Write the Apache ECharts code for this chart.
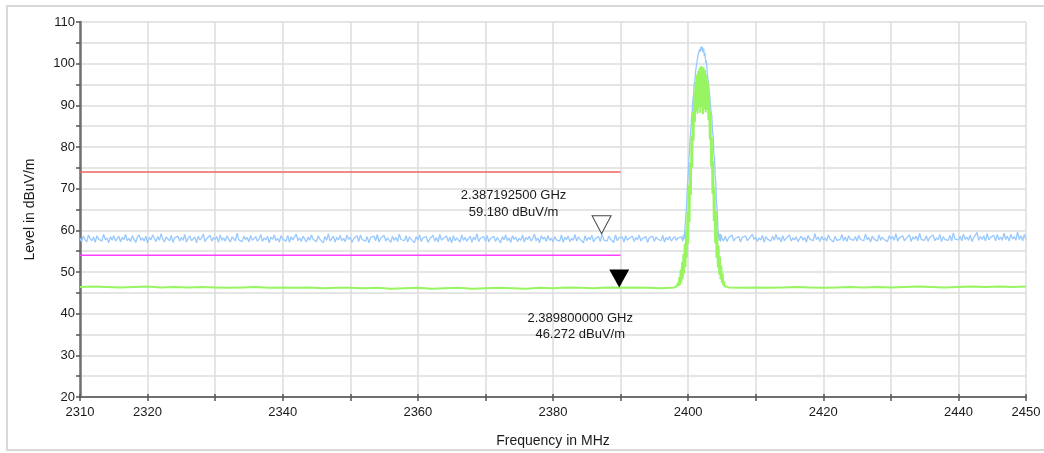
<!DOCTYPE html>
<html>
<head>
<meta charset="utf-8">
<script src="https://cdn.jsdelivr.net/npm/echarts@6/dist/echarts.min.js"></script>
<style>
html,body{margin:0;padding:0;background:#fff;}
#chart{width:1044px;height:453px;}
</style>
</head>
<body>
<div id="chart"></div>
<script>
// ---- axis ----
const X_MIN = 2310, X_MAX = 2450, X_STEP = 10;
const Y_MIN = 20, Y_MAX = 110, Y_STEP = 5;
const xLabelValues = [2310, 2320, 2340, 2360, 2380, 2400, 2420, 2440, 2450];
const yLabelValues = [20, 30, 40, 50, 60, 70, 80, 90, 100, 110];

// ---- peak (max hold) trace, blue ----
const blueLeftStart = 2310, blueLeftStep = 0.25;
const blueLeft = [
58.1,57.3,58.6,57.8,57.2,58.9,58.0,57.5,58.4,57.1,58.7,57.9,58.3,57.4,59.1,57.7,58.2,57.0,58.5,57.6,
58.8,57.4,58.0,58.6,57.2,58.3,57.8,59.0,57.5,58.1,57.3,58.7,57.9,57.1,58.4,58.9,57.6,58.2,57.4,58.6,
57.0,58.3,57.7,58.9,58.1,57.3,58.5,57.6,59.2,57.9,57.2,58.4,58.0,57.5,58.8,57.1,58.2,57.8,58.6,57.4,
58.3,57.6,59.0,57.2,58.1,58.7,57.5,57.9,58.4,57.0,58.6,57.7,58.2,59.1,57.3,58.0,57.6,58.8,57.4,58.3,
57.8,58.5,57.1,58.9,57.6,58.2,57.4,58.7,57.9,57.2,58.4,58.0,57.5,59.3,57.7,58.1,57.3,58.6,57.8,58.3,
57.2,58.8,57.6,58.0,58.5,57.4,57.9,59.0,57.3,58.2,57.7,58.6,57.0,58.4,57.8,58.9,57.5,58.1,57.2,58.7,
57.9,58.3,57.4,58.8,57.1,58.5,57.7,58.0,59.1,57.5,58.2,57.3,58.6,57.9,57.2,58.4,57.6,58.9,57.8,58.1,
57.3,58.7,57.9,58.2,57.0,58.5,57.6,59.2,57.4,58.0,58.6,57.2,58.3,57.7,58.8,57.5,58.1,57.3,58.9,57.8,
58.4,57.1,58.0,57.6,58.7,57.3,58.9,57.8,58.2,57.4,58.5,57.0,58.3,57.9,58.6,57.5,59.0,57.2,58.1,57.7,
58.8,57.4,58.2,57.9,57.1,58.6,57.6,58.3,57.3,59.1,57.8,58.0,57.5,58.7,57.2,58.4,57.9,58.1,57.0,58.5,
57.6,58.9,57.3,58.2,57.8,58.5,57.1,58.0,57.7,58.8,57.4,58.3,57.2,59.0,57.6,58.1,57.9,58.6,57.3,58.4,
57.0,58.7,57.5,58.2,57.8,57.2,58.9,57.6,58.3,57.4,58.0,58.6,57.1,58.4,57.7,59.2,57.3,58.1,57.9,58.5,
57.4,58.8,57.2,58.0,57.6,58.6,57.3,58.3,57.9,57.0,58.5,57.7,58.9,57.5,58.2,57.1,58.7,57.8,58.4,57.3,
58.1,57.6,58.9,57.2,58.3,57.8,58.6,57.4,58.0,59.1,57.5,58.2,57.0,58.7,57.9,58.4,57.3,58.8,57.6,58.1,
57.2,58.5,57.7,58.0,57.4,58.9,57.1,58.3,57.8,58.6,57.3,58.1,57.6,59.0,57.4,58.4,57.9,58.2,57.0,58.7,
57.5,58.3,57.8,58.8,57.2,58.0,57.6,58.5,57.3,59.2,57.7,58.1,57.4,58.6,57.9,58.3,57.1,58.9,57.5,58.2,
57.8,58.4,57.2,58.7,57.6,58.1,57.9,58.6,57.3,58.3,57.7,58.9,57.4,58.0,57.6,58.5,57.1,58.2,57.8,58.6,
57.3,58.4,57.9,58.1,57.5,58.8,57.2,58.3,57.7,58.6,57.4,58.0,58.5,57.6,58.2,57.9,58.4
];
const bluePeakStart = 2399.1, bluePeakStep = 0.1;
const bluePeak = [
58.3,57.4,58.9,57.8,59.8,60.0,64.4,67.0,70.9,73.3,
77.0,79.1,82.4,84.1,87.2,88.7,91.4,92.5,95.0,95.8,
98.1,98.5,100.4,100.6,102.3,102.0,103.5,102.9,104.1,103.2,
104.0,102.7,103.6,101.8,102.5,100.2,100.7,98.1,98.4,95.4,
95.3,92.1,91.8,88.2,87.6,83.7,82.8,78.5,77.4,72.9,
71.5,66.6,64.9,60.2,59.9,57.6,59.2,57.3,58.9
];
const blueRightStart = 2405, blueRightStep = 0.25;
const blueRight = [
58.0,57.5,58.6,57.3,58.2,57.8,58.9,57.4,58.1,57.7,58.5,57.2,58.3,57.9,58.7,57.5,58.0,57.6,59.1,57.8,
58.4,57.3,58.2,57.7,58.8,57.1,58.5,57.9,58.0,57.4,58.6,57.6,59.0,57.8,58.3,57.2,58.7,57.5,58.1,57.9,
58.9,57.4,58.2,57.7,58.5,57.3,58.0,58.6,57.6,58.3,57.1,58.8,57.9,58.1,57.5,59.2,57.8,58.4,57.3,58.6,
57.7,58.2,57.4,58.9,57.9,58.3,57.2,58.6,57.6,58.0,57.8,59.0,57.5,58.4,57.3,58.7,57.9,58.1,57.6,58.5,
57.4,58.8,57.8,58.2,57.5,59.1,57.7,58.3,57.2,58.6,57.9,58.0,57.4,58.9,57.6,58.4,57.8,58.1,57.3,58.7,
57.9,58.5,57.6,59.2,57.4,58.2,57.8,58.7,57.5,58.0,57.7,58.9,57.3,58.4,57.9,58.6,57.5,59.3,57.8,58.1,
57.6,58.7,57.4,58.3,57.9,58.9,57.5,58.2,57.7,59.0,57.3,58.5,57.8,58.0,57.6,58.8,57.4,59.4,57.9,58.3,
57.7,58.6,57.5,59.1,57.8,58.4,57.6,58.9,57.3,58.2,57.9,59.5,57.6,58.5,57.8,58.7,57.4,59.2,57.7,58.3,
57.9,58.8,57.5,59.0,57.7,58.4,57.6,59.3,57.8,58.6,57.4,59.1,57.9,58.5,57.6,59.6,57.8,58.7,57.5,59.0,
57.8
];

// ---- average trace, green ----
const greenLeftStart = 2310, greenLeftStep = 2;
const greenLeft = [
46.4,46.5,46.4,46.3,46.4,46.5,46.3,46.4,46.3,46.4,
46.3,46.2,46.3,46.4,46.2,46.3,46.2,46.3,46.1,46.2,
46.2,46.1,46.2,46.0,46.1,46.2,46.0,46.1,46.2,46.0,
46.1,46.2,46.1,46.0,46.2,46.1,46.3,46.2,46.1,46.3,
46.2,46.3,46.2,46.1,46.3
];
const greenPeakStart = 2398.2, greenPeakStep = 0.1;
const greenPeak = [
46.3,46.6,46.4,47.4,46.6,48.8,46.9,50.6,47.5,52.4,
48.4,54.3,49.6,56.8,51.2,60.0,53.5,64.5,56.8,70.8,
62.0,76.3,68.5,82.7,75.0,88.4,81.5,93.2,86.0,95.6,
88.6,97.4,88.0,98.3,89.4,99.0,88.2,99.4,89.6,99.3,
87.9,99.0,89.0,98.4,88.3,97.3,88.9,95.8,86.4,93.0,
81.8,88.6,75.3,82.4,68.8,76.6,62.2,70.4,56.9,64.6,
53.4,59.7,51.0,56.3,49.4,53.7,48.2,51.5,47.4,49.6,
46.8,47.8,46.5,46.9,46.4,46.5,46.3
];
const greenRightStart = 2406, greenRightStep = 2;
const greenRight = [
46.3,46.2,46.3,46.2,46.3,46.4,46.3,46.2,46.3,46.4,
46.3,46.4,46.3,46.4,46.5,46.4,46.3,46.4,46.5,46.4,
46.5,46.4,46.5
];

// ---- limit lines ----
const limitPeak = [[2310, 74], [2390, 74]];
const limitAvg = [[2310, 54], [2390, 54]];

// ---- markers ----
const marker1 = [2387.1925, 59.18];
const marker2 = [2389.8, 46.272];

function pairs(start, step, vals) {
  return vals.map((v, i) => [+(start + i * step).toFixed(3), v]);
}
const blueData = pairs(blueLeftStart, blueLeftStep, blueLeft)
  .concat(pairs(bluePeakStart, bluePeakStep, bluePeak))
  .concat(pairs(blueRightStart, blueRightStep, blueRight));
const greenData = pairs(greenLeftStart, greenLeftStep, greenLeft)
  .concat(pairs(greenPeakStart, greenPeakStep, greenPeak))
  .concat(pairs(greenRightStart, greenRightStep, greenRight));

function markerText(p) {
  return (p[0] / 1000).toFixed(9) + ' GHz\n' + p[1].toFixed(3) + ' dBuV/m';
}

const FONT = "'Liberation Sans', Arial, sans-serif";
const TXT = '#1a1a1a';
const chart = echarts.init(document.getElementById('chart'), null, {renderer: 'canvas'});
const tri = 'path://M0,0 L20,0 L10,19 Z';

chart.setOption({
  animation: false,
  backgroundColor: '#fff',
  textStyle: {fontFamily: FONT},
  graphic: [{
    type: 'rect', silent: true, z: -10,
    shape: {x: 7, y: 6, width: 1060, height: 444},
    style: {fill: 'none', stroke: '#d9d9d9', lineWidth: 2}
  }],
  grid: {left: 80, right: 18, top: 22, bottom: 55, containLabel: false},
  xAxis: [{
    type: 'value', min: X_MIN, max: X_MAX, interval: X_STEP,
    name: 'Frequency in MHz', nameLocation: 'middle', nameGap: 37,
    nameTextStyle: {fontSize: 14, color: TXT, fontFamily: FONT},
    axisLine: {show: true, onZero: false, lineStyle: {color: '#707070', width: 2}},
    axisTick: {show: true, length: 4, lineStyle: {color: '#555', width: 1.5}},
    axisLabel: {
      fontSize: 13, color: TXT, fontFamily: FONT, margin: 9,
      formatter: v => xLabelValues.indexOf(v) >= 0 ? String(v) : ''
    },
    splitLine: {show: true, lineStyle: {color: '#dcdcdc', width: 1.5}}
  }, {
    type: 'value', min: X_MIN, max: X_MAX, interval: X_STEP, position: 'bottom',
    axisLine: {show: false}, axisLabel: {show: false}, splitLine: {show: false},
    axisTick: {show: true, inside: true, length: 3, lineStyle: {color: '#555', width: 1.5}}
  }],
  yAxis: {
    type: 'value', min: Y_MIN, max: Y_MAX, interval: Y_STEP,
    name: 'Level in dBuV/m', nameLocation: 'middle', nameGap: 43,
    nameTextStyle: {fontSize: 14, color: TXT, fontFamily: FONT},
    axisLine: {show: true, onZero: false, lineStyle: {color: '#707070', width: 2.5}},
    axisTick: {show: true, length: 4, lineStyle: {color: '#555', width: 1.5}},
    axisLabel: {
      fontSize: 13, color: TXT, fontFamily: FONT, margin: 5,
      formatter: v => yLabelValues.indexOf(v) >= 0 ? String(v) : ''
    },
    splitLine: {show: true, lineStyle: {color: '#dcdcdc', width: 1.5}}
  },
  series: [
    {
      type: 'line', name: 'Peak', data: blueData, symbol: 'none', z: 2,
      lineStyle: {color: '#99c9ff', width: 1.3}, clip: true
    },
    {
      type: 'line', name: 'Average', data: greenData, symbol: 'none', z: 3,
      lineStyle: {color: '#96f560', width: 2}, clip: true
    },
    {
      type: 'line', name: 'Limit PK', data: limitPeak, symbol: 'none', z: 4,
      lineStyle: {color: '#f06464', width: 1.5}
    },
    {
      type: 'line', name: 'Limit AV', data: limitAvg, symbol: 'none', z: 4,
      lineStyle: {color: '#ff40ff', width: 1.5}
    },
    {
      type: 'scatter', name: 'M1', data: [marker1], z: 10,
      symbol: tri, symbolSize: [19, 18], symbolOffset: [0, -9],
      itemStyle: {color: '#fff', borderColor: '#444', borderWidth: 1, opacity: 1},
      label: {
        show: true, position: 'inside', offset: [-88, -21],
        formatter: p => markerText(p.value),
        fontSize: 13, lineHeight: 16.5, color: TXT, fontFamily: FONT, align: 'center'
      }
    },
    {
      type: 'scatter', name: 'M2', data: [marker2], z: 10,
      symbol: tri, symbolSize: [20, 18], symbolOffset: [0, -9],
      itemStyle: {color: '#000', borderColor: '#000', borderWidth: 0, opacity: 1},
      label: {
        show: true, position: 'inside', offset: [-39, 48],
        formatter: p => markerText(p.value),
        fontSize: 13, lineHeight: 16.5, color: TXT, fontFamily: FONT, align: 'center'
      }
    }
  ]
});
</script>
</body>
</html>
